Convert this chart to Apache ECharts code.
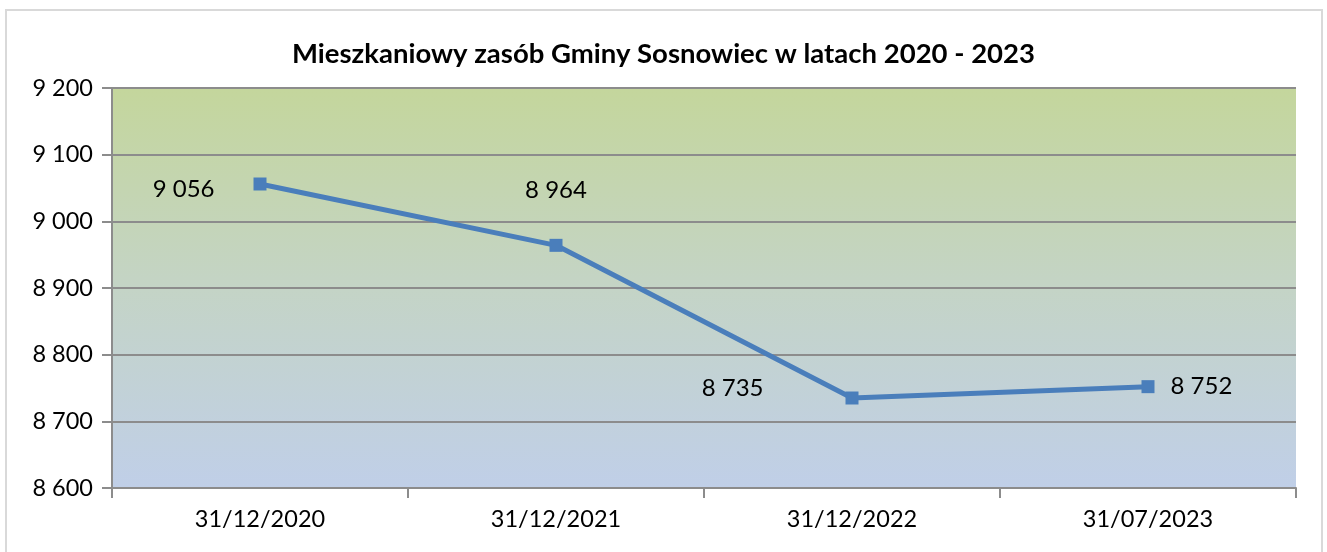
<!DOCTYPE html>
<html>
<head>
<meta charset="utf-8">
<script src="https://cdn.jsdelivr.net/npm/echarts@6/dist/echarts.min.js"></script>
<style>
html, body { margin: 0; padding: 0; background: #fff; }
#chart { width: 1327px; height: 552px; }
.frame {
    position: absolute;
    left: 5px;
    top: 9px;
    width: 1314px;
    height: 560px;
    border: 2px solid #d9d9d9;
    pointer-events: none;
}
</style>
</head>
<body>
<div id="chart"></div>
<div class="frame"></div>
<script>
const title = 'Mieszkaniowy zasób Gminy Sosnowiec w latach 2020 - 2023';
const categories = ['31/12/2020', '31/12/2021', '31/12/2022', '31/07/2023'];
const values = [9056, 8964, 8735, 8752];
const yMin = 8600;
const yMax = 9200;
const yStep = 100;

// label placement per point, as in the original
const labelPlacement = [
    { position: 'left', distance: 39, offset: [0, 5] },
    { position: 'top', distance: 37 },
    { position: 'left', distance: 82, offset: [0, -10] },
    { position: 'right', distance: 16 }
];

const fmt = v => String(v).replace(/\B(?=(\d{3})+(?!\d))/g, ' ');
const font = 'Lato, "Open Sans", sans-serif';

const chart = echarts.init(document.getElementById('chart'));
chart.setOption({
    animation: false,
    title: {
        text: title,
        left: 'center',
        top: 35,
        textStyle: {
            fontFamily: font,
            fontWeight: 'bold',
            fontSize: 27.5,
            color: '#000'
        }
    },
    grid: {
        left: 112,
        right: 31,
        top: 88,
        bottom: 64,
        show: true,
        borderWidth: 0,
        backgroundColor: new echarts.graphic.LinearGradient(0, 0, 0, 1, [
            { offset: 0, color: '#c4d69c' },
            { offset: 0.5, color: '#c4d4c6' },
            { offset: 1, color: '#c0cfe8' }
        ])
    },
    xAxis: {
        type: 'category',
        data: categories,
        boundaryGap: true,
        axisLine: { lineStyle: { color: '#8c8c8c', width: 2 } },
        axisTick: { show: true, length: 10, lineStyle: { color: '#8c8c8c', width: 2 } },
        axisLabel: {
            margin: 19,
            fontFamily: font,
            fontSize: 23.5,
            color: '#000'
        }
    },
    yAxis: {
        type: 'value',
        min: yMin,
        max: yMax,
        interval: yStep,
        axisLine: { show: true, lineStyle: { color: '#8c8c8c', width: 2 } },
        axisTick: { show: true, length: 10, lineStyle: { color: '#8c8c8c', width: 2 } },
        splitLine: { lineStyle: { color: '#8c8c8c', width: 2 } },
        axisLabel: {
            margin: 19,
            fontFamily: font,
            fontSize: 23.5,
            color: '#000',
            formatter: v => fmt(v)
        }
    },
    series: [{
        type: 'line',
        data: values.map((v, i) => ({
            value: v,
            label: labelPlacement[i]
        })),
        symbol: 'rect',
        symbolSize: 13,
        itemStyle: { color: '#4a7ebb' },
        lineStyle: { color: '#4a7ebb', width: 5 },
        label: {
            show: true,
            fontFamily: font,
            fontSize: 24,
            color: '#000',
            formatter: p => fmt(p.value)
        }
    }]
});
</script>
</body>
</html>
